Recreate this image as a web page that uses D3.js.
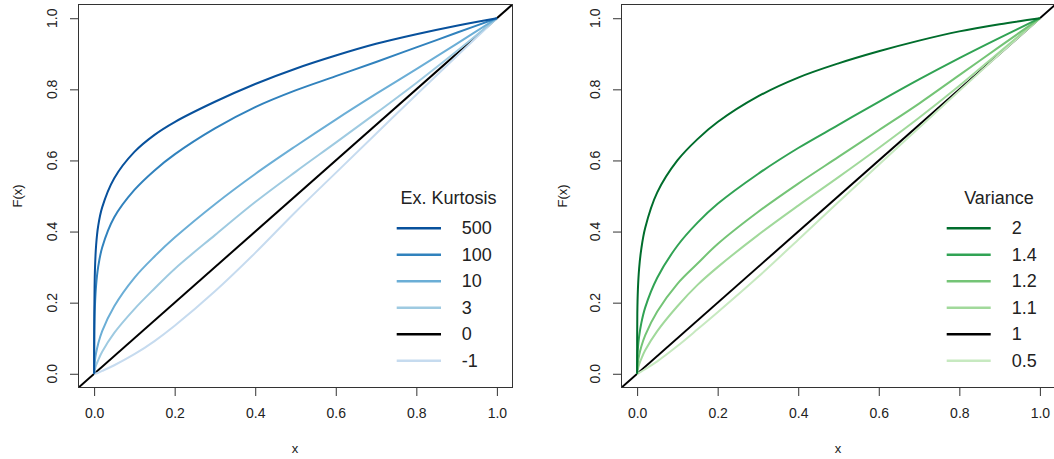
<!DOCTYPE html>
<html><head><meta charset="utf-8">
<script src="https://cdn.jsdelivr.net/npm/d3@7"></script>
<style>body{margin:0;background:#fff}svg{display:block}text{font-family:"Liberation Sans",Arial,sans-serif;fill:#222}</style>
</head><body><svg id="c" width="1054" height="459"></svg>
<script>
// shared x grid
const xGrid = [0, 0.0005, 0.002, 0.005, 0.01, 0.02, 0.05, 0.1, 0.15, 0.2, 0.3, 0.4, 0.5, 0.6, 0.7, 0.8, 0.9, 1];

// Left panel: Ex. Kurtosis
const kurtLabels = ["500", "100", "10", "3", "0", "-1"];
const kurtColors = ["#08519C", "#3182BD", "#6BAED6", "#9ECAE1", "#000000", "#C6DBEF"];
const kurt500 = [0, 0.17, 0.29, 0.362, 0.415, 0.468, 0.55, 0.624, 0.672, 0.708, 0.765, 0.815, 0.858, 0.895, 0.928, 0.955, 0.979, 1];
const kurt100 = [0, 0.12, 0.19, 0.25, 0.30, 0.355, 0.44, 0.517, 0.572, 0.617, 0.69, 0.75, 0.797, 0.837, 0.877, 0.918, 0.959, 1];
const kurt10  = [0, 0.018, 0.037, 0.059, 0.084, 0.12, 0.19, 0.27, 0.33, 0.383, 0.477, 0.562, 0.64, 0.715, 0.787, 0.857, 0.928, 1];
const kurt3   = [0, 0.005, 0.013, 0.024, 0.038, 0.062, 0.115, 0.182, 0.24, 0.295, 0.39, 0.483, 0.568, 0.65, 0.733, 0.818, 0.907, 1];
const kurt0   = [0, 0.0005, 0.002, 0.005, 0.01, 0.02, 0.05, 0.1, 0.15, 0.2, 0.3, 0.4, 0.5, 0.6, 0.7, 0.8, 0.9, 1];
const kurtM1  = [0, 0, 0.0003, 0.001, 0.003, 0.008, 0.024, 0.055, 0.092, 0.135, 0.232, 0.34, 0.455, 0.565, 0.675, 0.785, 0.893, 1];
const kurtSeries = [kurt500, kurt100, kurt10, kurt3, kurt0, kurtM1];

// Right panel: Variance
const varLabels = ["2", "1.4", "1.2", "1.1", "1", "0.5"];
const varColors = ["#006D2C", "#31A354", "#74C476", "#A1D99B", "#000000", "#C7E9C0"];
const var2   = [0, 0.17, 0.238, 0.296, 0.348, 0.41, 0.51, 0.60, 0.66, 0.708, 0.78, 0.833, 0.873, 0.907, 0.937, 0.963, 0.983, 1];
const var14  = [0, 0.041, 0.072, 0.105, 0.14, 0.186, 0.27, 0.36, 0.425, 0.478, 0.562, 0.635, 0.70, 0.765, 0.828, 0.888, 0.945, 1];
const var12  = [0, 0.015, 0.032, 0.052, 0.075, 0.108, 0.175, 0.253, 0.31, 0.365, 0.455, 0.535, 0.61, 0.685, 0.76, 0.84, 0.92, 1];
const var11  = [0, 0.006, 0.014, 0.026, 0.041, 0.066, 0.12, 0.19, 0.25, 0.30, 0.39, 0.473, 0.553, 0.635, 0.72, 0.81, 0.905, 1];
const var1   = [0, 0.0005, 0.002, 0.005, 0.01, 0.02, 0.05, 0.1, 0.15, 0.2, 0.3, 0.4, 0.5, 0.6, 0.7, 0.8, 0.9, 1];
const var05  = [0, 0, 0.001, 0.003, 0.006, 0.013, 0.035, 0.078, 0.125, 0.173, 0.272, 0.377, 0.483, 0.588, 0.692, 0.796, 0.899, 1];
const varSeries = [var2, var14, var12, var11, var1, var05];

const tickVals = [0, 0.2, 0.4, 0.6, 0.8, 1.0];
const tickLabels = ["0.0", "0.2", "0.4", "0.6", "0.8", "1.0"];

const svg = d3.select("#c");

const panels = [
  {id:"L", left:78, right:513, legendTitle:"Ex. Kurtosis", titleX:448.5, lineX0:396.7, lineX1:441, labX:461.7,
   labels:kurtLabels, colors:kurtColors, series:kurtSeries, ylabX:18, ytickX:56.5, xlabX:295},
  {id:"R", left:621, right:1056, legendTitle:"Variance", titleX:999, lineX0:946.7, lineX1:990.7, labX:1011.7,
   labels:varLabels, colors:varColors, series:varSeries, ylabX:563, ytickX:600, xlabX:838}
];
const plotTop = 4, plotBottom = 388;

panels.forEach(p => {
  const x = d3.scaleLinear().domain([-0.04, 1.04]).range([p.left, p.right]);
  const y = d3.scaleLinear().domain([-0.04, 1.04]).range([plotBottom, plotTop]);
  const g = svg.append("g");
  g.append("clipPath").attr("id", "clip" + p.id).append("rect")
    .attr("x", p.left).attr("y", plotTop).attr("width", p.right - p.left).attr("height", plotBottom - plotTop);
  const plot = g.append("g").attr("clip-path", "url(#clip" + p.id + ")");
  const line = d3.line().x(d => x(d[0])).y(d => y(d[1])).curve(d3.curveCatmullRom.alpha(0.5));
  const order = [4, 5, 3, 2, 1, 0];
  order.forEach(i => {
    let pts;
    if (i === 4) {
      const dom = x.domain();
      pts = [[dom[0], dom[0]], [dom[1], dom[1]]];
      plot.append("path").attr("d", d3.line().x(d => x(d[0])).y(d => y(d[1]))(pts))
        .attr("fill", "none").attr("stroke", p.colors[i]).attr("stroke-width", 2);
    } else {
      pts = xGrid.map((v, k) => [v, p.series[i][k]]);
      plot.append("path").attr("d", line(pts))
        .attr("fill", "none").attr("stroke", p.colors[i]).attr("stroke-width", 2);
    }
  });
  g.append("rect").attr("x", p.left + 0.5).attr("y", plotTop + 0.5)
    .attr("width", p.right - p.left - 1).attr("height", plotBottom - plotTop - 1)
    .attr("fill", "none").attr("stroke", "#333").attr("stroke-width", 1);
  const xa = g.append("g").attr("transform", `translate(0,${plotBottom})`)
    .call(d3.axisBottom(x).tickValues(tickVals).tickFormat((d, i) => tickLabels[i]).tickSize(8).tickPadding(12));
  xa.select(".domain").remove();
  xa.selectAll("line").attr("stroke", "#333");
  xa.selectAll("text").attr("font-size", 14).attr("fill", "#222").style("font-family", '"Liberation Sans",Arial,sans-serif');
  const ya = g.append("g").attr("transform", `translate(${p.left},0)`)
    .call(d3.axisLeft(y).tickValues(tickVals).tickFormat("").tickSize(8));
  ya.select(".domain").remove();
  ya.selectAll("line").attr("stroke", "#333");
  tickVals.forEach((v, i) => {
    g.append("text").attr("transform", `translate(${p.ytickX},${y(v)}) rotate(-90)`)
      .attr("text-anchor", "middle").attr("font-size", 14).text(tickLabels[i]);
  });
  g.append("text").attr("x", p.xlabX).attr("y", 453).attr("text-anchor", "middle").attr("font-size", 13).text("x");
  g.append("text").attr("transform", `translate(${p.ylabX + 4},${y(0.5)}) rotate(-90)`)
    .attr("text-anchor", "middle").attr("font-size", 13).text("F(x)");
  g.append("text").attr("x", p.titleX).attr("y", 204).attr("text-anchor", "middle").attr("font-size", 18).text(p.legendTitle);
  p.labels.forEach((lab, i) => {
    const ly = 228.3 + i * 26.5;
    g.append("line").attr("x1", p.lineX0).attr("x2", p.lineX1).attr("y1", ly).attr("y2", ly)
      .attr("stroke", p.colors[i]).attr("stroke-width", 2.5);
    g.append("text").attr("x", p.labX).attr("y", ly + 6).attr("font-size", 18).text(lab);
  });
});
</script></body></html>
